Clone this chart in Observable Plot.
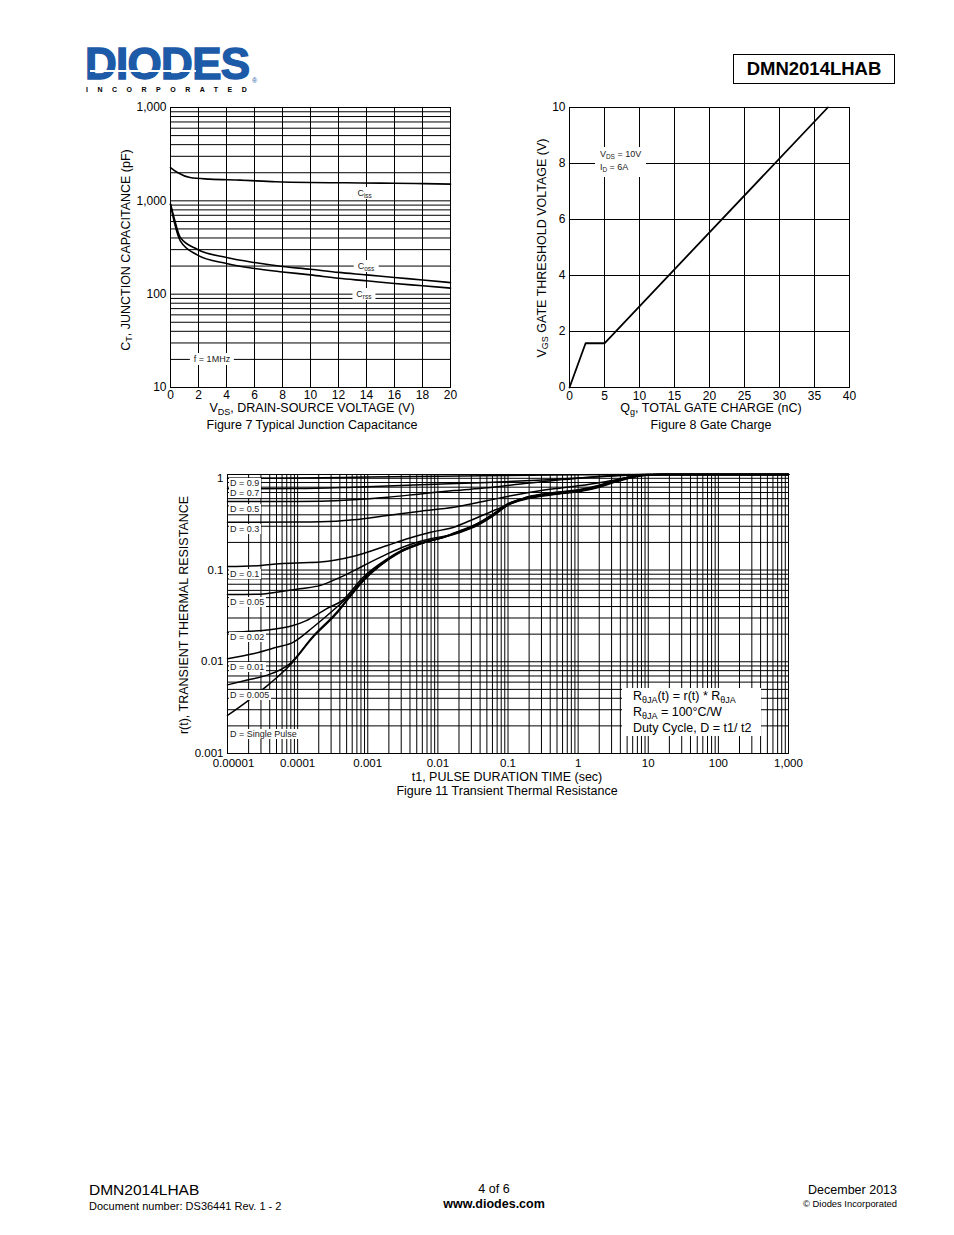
<!DOCTYPE html>
<html>
<head>
<meta charset="utf-8">
<script src="https://cdn.jsdelivr.net/npm/d3@7"></script>
<script src="https://cdn.jsdelivr.net/npm/@observablehq/plot@0.6"></script>
<style>
html,body{margin:0;padding:0;background:#fff;}
#page{position:relative;width:954px;height:1235px;background:#fff;font-family:"Liberation Sans",Arial,sans-serif;color:#000;overflow:hidden;}
#page div{white-space:nowrap;}
sub{font-size:0.72em;vertical-align:-0.3em;line-height:0;}
</style>
</head>
<body>
<div id="page"></div>
<script>
// ================= DATA =================
// Figure 7 – Typical Junction Capacitance
const vdsCiss = [0, 0.5, 1.4, 2.8, 5, 7.5, 10, 12.5, 15, 17.5, 20];
const ciss    = [2275, 2010, 1780, 1710, 1667, 1600, 1570, 1560, 1548, 1532, 1510];
const vdsCoss = [0, 0.25, 0.7, 1.9, 4, 6, 8, 10, 12, 14, 16, 18, 20];
const coss    = [921, 662, 404, 303, 247, 218, 198, 185, 171, 161, 151, 142, 133];
const crss    = [921, 611, 373, 264, 213, 188, 173, 161, 148, 139, 130, 123, 116];
const vdsTicks = [0, 2, 4, 6, 8, 10, 12, 14, 16, 18, 20];
const capTicks = [10, 100, 1000, 10000];
const capTickLabels = ["10", "100", "1,000", "1,000"];
const fig7Notes = [
  {x: 13.9, y: 1190, html: "C<sub>iss</sub>"},
  {x: 14.0, y: 198, html: "C<sub>oss</sub>"},
  {x: 13.85, y: 98, html: "C<sub>rss</sub>"},
  {x: 3.0, y: 19.9, html: "f = 1MHz"}
];

// Figure 8 – Gate Charge
const qg  = [0, 2.3, 5, 36.9];
const vgs = [0, 1.58, 1.58, 10];
const qgTicks  = [0, 5, 10, 15, 20, 25, 30, 35, 40];
const vgsTicks = [0, 2, 4, 6, 8, 10];
const fig8Note = {x: 3.7, y: 8.56, html: "V<sub>DS</sub> = 10V<br>I<sub>D</sub> = 6A"};

// Figure 11 – Transient Thermal Resistance  ([t (sec), r(t)])
const d09 = [[1e-5,1.0],[1e-4,1.01],[1e-3,1.03],[1e-2,1.05],[0.1,1.07],[1,1.09],[10,1.1],[1000,1.1]];
const d07 = [[1e-5,0.767],[1e-4,0.772],[6.3e-4,0.80],[5.66e-3,0.85],[5.1e-2,0.90],[0.452,0.97],[3.2,1.06],[10,1.1],[1000,1.1]];
const d05 = [[1e-5,0.558],[1e-4,0.559],[2.12e-4,0.562],[6.3e-4,0.582],[1.9e-3,0.621],[5.66e-3,0.676],[1.69e-2,0.735],[5.1e-2,0.787],[0.151,0.869],[0.452,0.944],[1.09,1.01],[3.2,1.07],[10,1.1],[1000,1.1]];
const d03 = [[1e-5,0.332],[1e-4,0.333],[2.12e-4,0.335],[6.3e-4,0.353],[1.9e-3,0.393],[5.66e-3,0.438],[1.69e-2,0.484],[5.1e-2,0.572],[0.151,0.676],[0.452,0.767],[1.09,0.833],[3.2,0.95],[10,1.1],[1000,1.1]];
const d01 = [[1e-5,0.109],[3e-5,0.112],[5.5e-5,0.117],[1.2e-4,0.12],[2.12e-4,0.122],[6.3e-4,0.141],[1.9e-3,0.185],[3.66e-3,0.219],[7.9e-3,0.258],[1.69e-2,0.293],[2.92e-2,0.347],[6.3e-2,0.446],[0.121,0.548],[0.188,0.625],[0.452,0.70],[1.09,0.76],[2,0.84],[3.2,0.94],[7.8,1.08],[16,1.1],[1000,1.1]];
const d005 = [[1e-5,0.054],[3e-5,0.0545],[5.3e-5,0.0577],[1.07e-4,0.0625],[2.12e-4,0.068],[4.1e-4,0.0837],[8.8e-4,0.112],[1.9e-3,0.15],[3.66e-3,0.185],[7.9e-3,0.219],[1.69e-2,0.248],[3.65e-2,0.32],[6.3e-2,0.415],[9.8e-2,0.525],[0.188,0.62],[0.452,0.69],[1.09,0.745],[2,0.83],[3.2,0.93],[7.8,1.08],[16,1.1],[1000,1.1]];
const d002 = [[1e-5,0.021],[4e-5,0.0223],[8.6e-5,0.0248],[1.33e-4,0.0281],[2.57e-4,0.0377],[4.4e-4,0.047],[8.8e-4,0.085],[1.52e-3,0.118],[2.94e-3,0.162],[5.66e-3,0.197],[1.22e-2,0.23],[2.11e-2,0.27],[3.65e-2,0.32],[6.3e-2,0.41],[9.8e-2,0.52],[0.188,0.615],[0.452,0.685],[1.09,0.74],[2,0.82],[3.2,0.92],[7.8,1.08],[16,1.1],[1000,1.1]];
const d001 = [[1e-5,0.0108],[2.3e-5,0.0122],[5e-5,0.0144],[8.6e-5,0.0163],[1.66e-4,0.0238],[3.57e-4,0.039],[5.1e-4,0.05],[8.8e-4,0.081],[1.52e-3,0.115],[2.94e-3,0.16],[5.66e-3,0.195],[1.22e-2,0.229],[2.11e-2,0.266],[3.65e-2,0.316],[6.3e-2,0.405],[9.8e-2,0.515],[0.188,0.61],[0.452,0.678],[1.09,0.735],[2,0.815],[3.2,0.915],[7.8,1.075],[16,1.1],[1000,1.1]];
const d0005 = [[1e-5,0.0056],[1.85e-5,0.0063],[3.6e-5,0.0071],[7.7e-5,0.0095],[1.66e-4,0.019],[3.57e-4,0.0345],[5.1e-4,0.048],[8.8e-4,0.079],[1.52e-3,0.113],[2.94e-3,0.158],[5.66e-3,0.194],[1.22e-2,0.228],[2.11e-2,0.262],[3.65e-2,0.31],[6.3e-2,0.40],[9.8e-2,0.51],[0.188,0.605],[0.452,0.672],[1.09,0.73],[2,0.81],[3.2,0.91],[7.8,1.07],[16,1.1],[1000,1.1]];
const single = [[1e-5,0.0026],[1.85e-5,0.00364],[4e-5,0.00577],[7.7e-5,0.0091],[1.66e-4,0.0185],[3.57e-4,0.0333],[5.1e-4,0.0467],[8.8e-4,0.077],[1.52e-3,0.112],[2.94e-3,0.157],[5.66e-3,0.193],[1.22e-2,0.228],[2.11e-2,0.258],[3.65e-2,0.305],[6.3e-2,0.393],[9.8e-2,0.505],[0.188,0.597],[0.452,0.665],[1.09,0.72],[2,0.80],[3.2,0.9],[7.8,1.06],[16,1.1],[1000,1.1]];
const dSeries = [d09, d07, d05, d03, d01, d005, d002, d001, d0005, single];
const dLabels = ["D = 0.9","D = 0.7","D = 0.5","D = 0.3","D = 0.1","D = 0.05","D = 0.02","D = 0.01","D = 0.005","D = Single Pulse"];
const dLabelY = [0.876, 0.681, 0.456, 0.277, 0.0894, 0.0445, 0.0185, 0.00869, 0.00432, 0.00163];
const dLabelX = 1.07e-5;
const tTicks = [1e-5, 1e-4, 1e-3, 0.01, 0.1, 1, 10, 100, 1000];
const tTickLabels = ["0.00001","0.0001","0.001","0.01","0.1","1","10","100","1,000"];
const rTicks = [0.001, 0.01, 0.1, 1];
const rTickLabels = ["0.001","0.01","0.1","1"];
const fig11Box = {x: 4.28, y: 0.0051,
  html: "R<sub>θJA</sub>(t) = r(t) * R<sub>θJA</sub><br>R<sub>θJA</sub> = 100°C/W<br>Duty Cycle, D = t1/ t2"};

// ================= HELPERS =================
const FONT = '"Liberation Sans", Arial, sans-serif';
const page = document.getElementById("page");
function addDiv(html, css) {
  const d = document.createElement("div");
  d.innerHTML = html;
  d.style.cssText = "position:absolute;" + css;
  page.appendChild(d);
  return d;
}
function txt(html, x, y, size, opts = {}) {
  const a = opts.anchor || "start";
  const tx = a === "middle" ? "-50%" : a === "end" ? "-100%" : "0";
  return addDiv(html, `left:${x}px;top:${y - size * 0.5}px;font-size:${size}px;line-height:${size}px;font-weight:${opts.weight || 400};transform:translateX(${tx});${opts.css || ""}`);
}
function vtxt(html, cx, cy, size) {
  return addDiv(html, `left:${cx}px;top:${cy}px;font-size:${size}px;line-height:${size}px;transform:translate(-50%,-50%) rotate(-90deg);`);
}
function mount(svg, box) {
  Object.assign(svg.style, {position: "absolute", left: box.left + "px", top: box.top + "px", background: "transparent"});
  page.appendChild(svg);
}
function px(plot, box, name, v) {
  const s = plot.scale(name);
  if (s.apply) return (name === "x" ? box.left : box.top) + s.apply(v);
  const f = (s.type === "log" ? d3.scaleLog() : d3.scaleLinear()).domain(s.domain).range(s.range);
  return (name === "x" ? box.left : box.top) + f(v);
}
const gridStyle = {stroke: "#000", strokeWidth: 1, strokeOpacity: 1};

// ================= HEADER =================
addDiv("DIODES", `left:85px;top:42px;font-size:44px;line-height:44px;font-weight:700;color:#1d5aa7;letter-spacing:-0.7px;-webkit-text-stroke:1.4px #1d5aa7;font-family:${FONT};`);
addDiv("", "left:90px;top:70px;width:106px;height:2px;background:#fff;");
addDiv("INCORPORATED", `left:86px;top:86px;font-size:7px;line-height:7px;font-weight:700;letter-spacing:9.5px;color:#000;`);
addDiv("®", "left:252px;top:77px;font-size:7px;line-height:7px;color:#1d5aa7;");
addDiv("DMN2014LHAB", "left:733px;top:54px;width:160px;height:28px;border:1.6px solid #000;font-size:18.5px;line-height:28px;font-weight:700;text-align:center;");

// ================= FIGURE 7 =================
const f7 = {left: 100, top: 97, width: 360, height: 310, ml: 70, mr: 10, mt: 10, mb: 20};
const capGrid = d3.scaleLog().domain([10, 10000]).ticks();
const plot7 = Plot.plot({
  width: f7.width, height: f7.height,
  marginLeft: f7.ml, marginRight: f7.mr, marginTop: f7.mt, marginBottom: f7.mb,
  style: {fontFamily: FONT, fontSize: "12px", color: "#000", background: "transparent", overflow: "visible"},
  x: {domain: [0, 20], ticks: vdsTicks, tickSize: 0, tickPadding: 3, label: null},
  y: {type: "log", domain: [10, 10000], ticks: capTicks,
      tickFormat: d => capTickLabels[capTicks.indexOf(d)], tickSize: 0, tickPadding: 4, label: null},
  marks: [
    Plot.ruleX(vdsTicks, gridStyle),
    Plot.ruleY(capGrid, gridStyle),
    Plot.frame({stroke: "#000"}),
    Plot.line(ciss, {x: vdsCiss, y: ciss, stroke: "#000", strokeWidth: 1.6, curve: "monotone-x"}),
    Plot.line(coss, {x: vdsCoss, y: coss, stroke: "#000", strokeWidth: 1.6, curve: "monotone-x"}),
    Plot.line(crss, {x: vdsCoss, y: crss, stroke: "#000", strokeWidth: 1.6, curve: "monotone-x"})
  ]
});
mount(plot7, f7);
for (const n of fig7Notes) {
  addDiv(n.html, `left:${px(plot7, f7, "x", n.x)}px;top:${px(plot7, f7, "y", n.y)}px;transform:translate(-50%,-50%);background:#fff;padding:1px 4px;font-size:9px;line-height:10px;color:#222;`);
}
vtxt("C<sub>T</sub>, JUNCTION CAPACITANCE (pF)", 126, 250, 12.5);
txt("V<sub>DS</sub>, DRAIN-SOURCE VOLTAGE (V)", 312, 408, 12.5, {anchor: "middle"});
txt("Figure 7 Typical Junction Capacitance", 312, 425, 12.5, {anchor: "middle"});

// ================= FIGURE 8 =================
const f8 = {left: 520, top: 97, width: 340, height: 310, ml: 49, mr: 11, mt: 10, mb: 20};
const plot8 = Plot.plot({
  width: f8.width, height: f8.height,
  marginLeft: f8.ml, marginRight: f8.mr, marginTop: f8.mt, marginBottom: f8.mb,
  style: {fontFamily: FONT, fontSize: "12px", color: "#000", background: "transparent", overflow: "visible"},
  x: {domain: [0, 40], ticks: qgTicks, tickSize: 0, tickPadding: 4, label: null},
  y: {domain: [0, 10], ticks: vgsTicks, tickSize: 0, tickPadding: 4, label: null},
  marks: [
    Plot.ruleX(qgTicks, gridStyle),
    Plot.ruleY(vgsTicks, gridStyle),
    Plot.frame({stroke: "#000"}),
    Plot.line(vgs, {x: qg, y: vgs, stroke: "#000", strokeWidth: 1.8})
  ]
});
mount(plot8, f8);
addDiv(fig8Note.html, `left:${px(plot8, f8, "x", fig8Note.x)}px;top:${px(plot8, f8, "y", fig8Note.y)}px;background:#fff;padding:1px 5px 3px 5px;font-size:9px;line-height:13px;color:#222;`);
vtxt("V<sub>GS</sub> GATE THRESHOLD VOLTAGE (V)", 542, 248, 12.5);
txt("Q<sub>g</sub>, TOTAL GATE CHARGE (nC)", 711, 408, 12.5, {anchor: "middle"});
txt("Figure 8 Gate Charge", 711, 425, 12.5, {anchor: "middle"});

// ================= FIGURE 11 =================
const f11 = {left: 180, top: 464, width: 620, height: 310, ml: 47, mr: 12, mt: 10, mb: 21};
const tGrid = d3.scaleLog().domain([1e-5, 1000]).ticks();
const rGrid = d3.scaleLog().domain([0.001, 1]).ticks();
const plot11 = Plot.plot({
  width: f11.width, height: f11.height,
  marginLeft: f11.ml, marginRight: f11.mr, marginTop: f11.mt, marginBottom: f11.mb,
  style: {fontFamily: FONT, fontSize: "11.5px", color: "#000", background: "transparent", overflow: "visible"},
  x: {type: "log", domain: [1e-5, 1000], ticks: tTicks,
      tickFormat: d => tTickLabels[Math.round(Math.log10(d)) + 5], tickSize: 0, tickPadding: 5, label: null},
  y: {type: "log", domain: [0.001, 1.1], ticks: rTicks,
      tickFormat: d => rTickLabels[Math.round(Math.log10(d)) + 3], tickSize: 0, tickPadding: 4, label: null},
  marks: [
    Plot.ruleX(tGrid, gridStyle),
    Plot.ruleY(rGrid, gridStyle),
    Plot.frame({stroke: "#000"}),
    ...dSeries.map(s => Plot.line(s, {x: d => d[0], y: d => d[1], stroke: "#000", strokeWidth: 1.5, curve: "monotone-x"}))
  ]
});
mount(plot11, f11);
{
  const g = plot11.querySelector('g[aria-label="x-axis tick label"]');
  if (g) { const t0 = g.querySelector("text"); if (t0) t0.setAttribute("dx", "6"); }
}
dLabels.forEach((lab, i) => {
  addDiv(lab, `left:${px(plot11, f11, "x", dLabelX)}px;top:${px(plot11, f11, "y", dLabelY[i])}px;transform:translate(0,-50%);background:#fff;padding:0 2px 0 1px;font-size:9px;line-height:10px;color:#222;`);
});
addDiv(fig11Box.html, `left:${px(plot11, f11, "x", fig11Box.x)}px;top:${px(plot11, f11, "y", fig11Box.y)}px;width:128px;height:48px;background:#fff;padding:0 0 0 11px;font-size:12.5px;line-height:16px;`);
vtxt("r(t), TRANSIENT THERMAL RESISTANCE", 184, 615, 12.5);
txt("t1, PULSE DURATION TIME (sec)", 507, 777, 12.5, {anchor: "middle"});
txt("Figure 11 Transient Thermal Resistance", 507, 791, 12.5, {anchor: "middle"});

// ================= FOOTER =================
txt("DMN2014LHAB", 89, 1190, 15.5);
txt("Document number: DS36441 Rev. 1 - 2", 89, 1206, 11);
txt("4 of 6", 494, 1189, 12.5, {anchor: "middle"});
txt("www.diodes.com", 494, 1204, 12.5, {anchor: "middle", weight: 700});
txt("December 2013", 897, 1190, 12.5, {anchor: "end"});
txt("© Diodes Incorporated", 897, 1204, 9.4, {anchor: "end"});
</script>
</body>
</html>
